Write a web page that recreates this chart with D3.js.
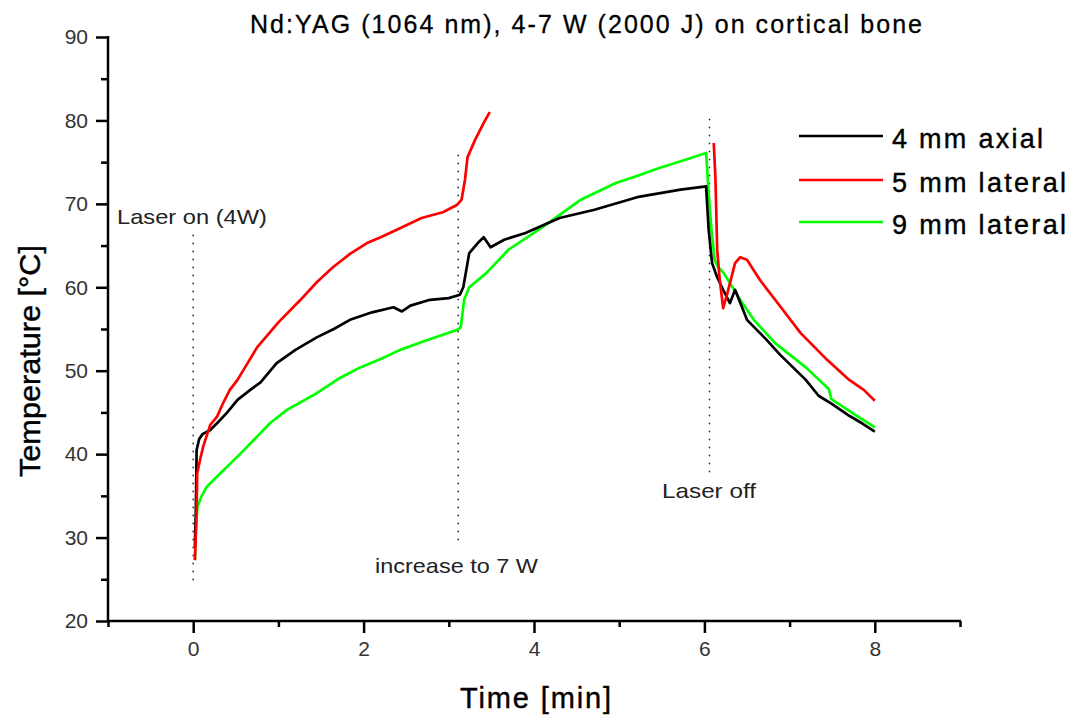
<!DOCTYPE html>
<html>
<head>
<meta charset="utf-8">
<script src="https://cdn.jsdelivr.net/npm/d3@7"></script>
<style>
  html, body { margin: 0; padding: 0; background: #fff; }
  svg { display: block; font-family: "Liberation Sans", Arial, sans-serif; }
</style>
</head>
<body>
<svg id="chart" width="1071" height="715"></svg>
<script>
// ---- Data (time in min, temperature in °C) ----
const seriesNames = ["4 mm axial", "5 mm lateral", "9 mm lateral"];
const seriesColors = ["#000000", "#ff0000", "#00ff00"];

const axial4mm = [
  [0.02, 28.9], [0.03, 33], [0.035, 36], [0.04, 40.5], [0.07, 41.8], [0.11, 42.4],
  [0.2, 42.9], [0.28, 43.7], [0.4, 45], [0.52, 46.5], [0.67, 47.7], [0.79, 48.6],
  [0.98, 50.9], [1.2, 52.5], [1.45, 54.0], [1.65, 55], [1.84, 56.1], [2.1, 57],
  [2.35, 57.6], [2.45, 57.1], [2.55, 57.8], [2.78, 58.5], [3.0, 58.7], [3.13, 59.1],
  [3.17, 60.0], [3.24, 64.1], [3.34, 65.3], [3.41, 66.0], [3.49, 64.8], [3.65, 65.7],
  [3.9, 66.5], [4.3, 68.3], [4.71, 69.3], [5.21, 70.8], [5.72, 71.7], [6.02, 72.1],
  [6.05, 66.9], [6.09, 62.9], [6.15, 61.2], [6.22, 59.7], [6.3, 58.1], [6.36, 59.7],
  [6.5, 56.1], [6.73, 53.7], [6.89, 51.9], [7.19, 48.9], [7.34, 47.0], [7.5, 46.0],
  [7.7, 44.6], [7.85, 43.7], [8.0, 42.7]
];

const lateral5mm = [
  [0.02, 27.3], [0.04, 33], [0.047, 37.7], [0.08, 39.3], [0.117, 40.9], [0.2, 43.5],
  [0.28, 44.5], [0.35, 46.1], [0.43, 47.7], [0.52, 48.9], [0.75, 52.8], [1.0, 55.8],
  [1.26, 58.5], [1.45, 60.6], [1.64, 62.4], [1.84, 64], [2.04, 65.3], [2.2, 66],
  [2.39, 66.9], [2.68, 68.3], [2.93, 69.0], [3.1, 69.9], [3.15, 70.5], [3.19, 72.9],
  [3.22, 75.6], [3.31, 77.7], [3.41, 79.7], [3.48, 81.0],
  null,
  [6.11, 77.3], [6.13, 72.9], [6.15, 64.5], [6.18, 60.9], [6.22, 57.5], [6.27, 59.3],
  [6.3, 60.5], [6.36, 62.9], [6.42, 63.6], [6.5, 63.3], [6.65, 60.9], [6.83, 58.5],
  [7.13, 54.5], [7.44, 51.3], [7.7, 48.9], [7.87, 47.7], [8.0, 46.4]
];

const lateral9mm = [
  [0.02, 27.3], [0.03, 30.9], [0.05, 33.7], [0.1, 35], [0.16, 36.1], [0.32, 37.7],
  [0.52, 39.7], [0.75, 42.1], [0.9, 43.7], [1.1, 45.3], [1.45, 47.3], [1.7, 49],
  [1.96, 50.4], [2.2, 51.4], [2.43, 52.5], [2.7, 53.5], [2.93, 54.3], [3.1, 54.9],
  [3.14, 55.2], [3.18, 58.5], [3.24, 60.0], [3.44, 61.7], [3.7, 64.5], [4.1, 67.2],
  [4.55, 70.5], [4.96, 72.5], [5.2, 73.3], [5.47, 74.3], [5.75, 75.2], [6.02, 76.1],
  [6.05, 71.3], [6.08, 67.2], [6.12, 63.3], [6.16, 62.4], [6.22, 61.8], [6.3, 60.5],
  [6.42, 58.5], [6.58, 56.1], [6.83, 53.3], [7.19, 50.4], [7.46, 47.8], [7.49, 46.6],
  [7.79, 44.6], [8.0, 43.2]
];

const xTicksMajor = [0, 2, 4, 6, 8];
const xTicksMinor = [-1, 1, 3, 5, 7, 9];
const yTicksMajor = [20, 30, 40, 50, 60, 70, 80, 90];
const yTicksMinor = [25, 35, 45, 55, 65, 75, 85];

// Event markers: time, from temperature, to temperature
const markerTimes = [0, 3.11, 6.06];
const markerFrom = [24.7, 28.9, 37.7];
const markerTo = [66.3, 75.9, 80.2];
const markerLabels = ["Laser on (4W)", "increase to 7 W", "Laser off"];

const titleText = "Nd:YAG (1064 nm), 4-7 W (2000 J) on cortical bone";
const xTitle = "Time [min]";
const yTitle = "Temperature [°C]";

// ---- Layout ----
const svg = d3.select("#chart");
const pLeft = 108, pRight = 960, pTop = 37, pBottom = 621;
const x = d3.scaleLinear().domain([-1, 9]).range([pLeft, pRight]);
const y = d3.scaleLinear().domain([20, 90]).range([pBottom, pTop]);

// Marker dotted lines
markerTimes.forEach((t, i) => {
  svg.append("line")
    .attr("x1", x(t)).attr("x2", x(t))
    .attr("y1", y(markerTo[i])).attr("y2", y(markerFrom[i]))
    .attr("stroke", "#222").attr("stroke-width", 1.5)
    .attr("stroke-dasharray", "1.5,6.5");
});

// Marker labels
const labelPos = [
  { x: 117, y: 224, len: 150 },
  { x: 375, y: 573, len: 163 },
  { x: 662, y: 498, len: 94 }
];
markerLabels.forEach((txt, i) => {
  svg.append("text")
    .attr("x", labelPos[i].x).attr("y", labelPos[i].y)
    .attr("font-size", 21).attr("fill", "#222")
    .attr("textLength", labelPos[i].len)
    .attr("lengthAdjust", "spacingAndGlyphs")
    .text(txt);
});

// Series lines
const line = d3.line()
  .defined(d => d !== null)
  .x(d => x(d[0]))
  .y(d => y(d[1]));

const allSeries = [axial4mm, lateral5mm, lateral9mm];
[2, 0, 1].forEach(i => {
  svg.append("path")
    .datum(allSeries[i])
    .attr("fill", "none")
    .attr("stroke", seriesColors[i])
    .attr("stroke-width", 2.7)
    .attr("stroke-linejoin", "round")
    .attr("d", line);
});

// Axes
const axisG = svg.append("g").attr("stroke", "#000").attr("stroke-width", 2.5);
axisG.append("line").attr("x1", pLeft).attr("x2", pLeft).attr("y1", pTop - 1).attr("y2", pBottom + 1);
axisG.append("line").attr("x1", pLeft - 1).attr("x2", pRight + 1).attr("y1", pBottom).attr("y2", pBottom);

const xAxis = d3.axisBottom(x).tickValues(xTicksMajor).tickSize(12).tickPadding(8).tickFormat(d3.format("d"));
const xAxisMinor = d3.axisBottom(x).tickValues(xTicksMinor).tickSize(6).tickFormat("");
const yAxis = d3.axisLeft(y).tickValues(yTicksMajor).tickSize(12).tickPadding(8).tickFormat(d3.format("d"));
const yAxisMinor = d3.axisLeft(y).tickValues(yTicksMinor).tickSize(7).tickFormat("");

function styleAxis(g) {
  g.select(".domain").remove();
  g.selectAll(".tick line").attr("stroke", "#000").attr("stroke-width", 2.5);
  g.selectAll(".tick text")
    .attr("font-family", "'Liberation Sans', Arial, sans-serif")
    .attr("font-size", 21).attr("fill", "#333");
}
svg.append("g").attr("transform", `translate(0,${pBottom})`).call(xAxisMinor).call(styleAxis);
svg.append("g").attr("transform", `translate(0,${pBottom})`).call(xAxis).call(styleAxis);
svg.append("g").attr("transform", `translate(${pLeft},0)`).call(yAxisMinor).call(styleAxis);
svg.append("g").attr("transform", `translate(${pLeft},0)`).call(yAxis).call(styleAxis);

// Title
svg.append("text")
  .attr("x", 250).attr("y", 33)
  .attr("font-size", 25).attr("fill", "#000")
  .attr("stroke", "#000").attr("stroke-width", 0.3)
  .attr("textLength", 672).attr("lengthAdjust", "spacing")
  .text(titleText);

// Axis titles
svg.append("text")
  .attr("x", 460).attr("y", 708)
  .attr("font-size", 29).attr("fill", "#000")
  .attr("stroke", "#000").attr("stroke-width", 0.4)
  .attr("textLength", 151).attr("lengthAdjust", "spacing")
  .text(xTitle);

svg.append("text")
  .attr("transform", `translate(40,477) rotate(-90)`)
  .attr("font-size", 30).attr("fill", "#000")
  .attr("stroke", "#000").attr("stroke-width", 0.4)
  .attr("textLength", 232).attr("lengthAdjust", "spacingAndGlyphs")
  .text(yTitle);

// Legend
const legendY = [136, 180, 222];
const legendLen = [151, 174, 174];
seriesNames.forEach((name, i) => {
  svg.append("line")
    .attr("x1", 799).attr("x2", 883)
    .attr("y1", legendY[i]).attr("y2", legendY[i])
    .attr("stroke", seriesColors[i]).attr("stroke-width", 2.7);
  svg.append("text")
    .attr("x", 892).attr("y", legendY[i] + 12)
    .attr("font-size", 27).attr("fill", "#000")
    .attr("stroke", "#000").attr("stroke-width", 0.4)
    .attr("textLength", legendLen[i]).attr("lengthAdjust", "spacing")
    .text(name);
});
</script>
</body>
</html>
